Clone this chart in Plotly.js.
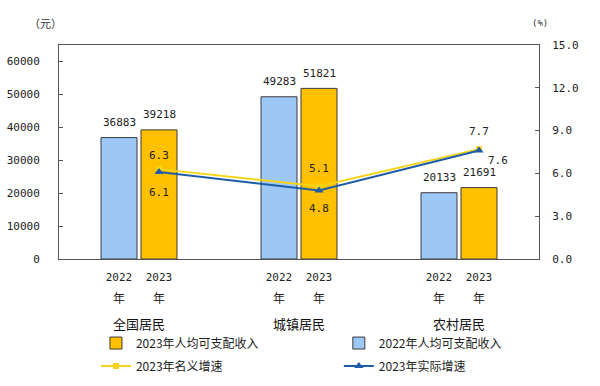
<!DOCTYPE html>
<html><head><meta charset="utf-8">
<script src="https://cdn.plot.ly/plotly-3.0.1.min.js"></script>
<style>html,body{margin:0;padding:0;background:#fff;}#chart{width:600px;height:386px;}</style>
</head><body><div id="chart"></div>
<script>
// ---- data ----
const groups = ['全国居民', '城镇居民', '农村居民'];
const years = ['2022', '2023'];
const income2022 = [36883, 49283, 20133];
const income2023 = [39218, 51821, 21691];
const nominalGrowth = [6.3, 5.1, 7.7];
const realGrowth = [6.1, 4.8, 7.6];
const legendNames = ['2022年人均可支配收入', '2023年人均可支配收入', '2023年名义增速', '2023年实际增速'];

// ---- style ----
const mono = 'DejaVu Sans Mono, monospace';
const cjk = 'Noto Sans CJK SC, sans-serif';
const bargap = 0.5;
const half = (1 - bargap) / 4; // centre offset of each bar in a group
const idx = groups.map((g, i) => i);
const nomShift = [14, 18, 18], realShift = [-21, -18, -10], realXShift = [0, 0, 19];

const traces = [
  {type: 'bar', name: legendNames[0], x: idx, y: income2022, legend: 'legend2', legendgroup: 'a', legendrank: 1,
   marker: {color: '#9DC8F5', line: {color: '#3a3a3a', width: 1}}, hoverinfo: 'none'},
  {type: 'bar', name: legendNames[1], x: idx, y: income2023, legend: 'legend', legendgroup: 'b', legendrank: 1,
   marker: {color: '#FFC000', line: {color: '#3a3a3a', width: 1}}, hoverinfo: 'none'},
  {type: 'scatter', mode: 'lines+markers', name: legendNames[2], yaxis: 'y2', legend: 'legend', legendgroup: 'c', legendrank: 2,
   x: idx.map(i => i + half), y: nominalGrowth,
   line: {color: '#F7D417', width: 2}, marker: {symbol: 'square', size: 6, color: '#F7D417'}},
  {type: 'scatter', mode: 'lines+markers', name: legendNames[3], yaxis: 'y2', legend: 'legend2', legendgroup: 'd', legendrank: 2,
   x: idx.map(i => i + half), y: realGrowth,
   line: {color: '#1F5CA8', width: 2}, marker: {symbol: 'triangle-up', size: 8, color: '#1F5CA8'}}
];

const annotations = [];
idx.forEach(i => {
  [income2022, income2023].forEach((arr, k) => {
    const x = i + (k === 0 ? -half : half);
    annotations.push({x: x, y: arr[i], xref: 'x', yref: 'y', text: String(arr[i]), showarrow: false,
      yanchor: 'middle', yshift: 15, font: {family: mono, size: 11, color: '#222'}});
    annotations.push({x: x, y: -0.182, xref: 'x', yref: 'paper', text: '年', showarrow: false,
      yanchor: 'middle', font: {family: cjk, size: 12, color: '#222'}});
  });
  annotations.push({x: i, y: -0.300, xref: 'x', yref: 'paper', text: groups[i], showarrow: false,
    yanchor: 'middle', font: {family: cjk, size: 13, color: '#111'}});
  annotations.push({x: i + half, y: nominalGrowth[i], xref: 'x', yref: 'y2', text: nominalGrowth[i].toFixed(1),
    showarrow: false, yanchor: 'middle', yshift: nomShift[i], font: {family: mono, size: 11, color: '#222'}});
  annotations.push({x: i + half, y: realGrowth[i], xref: 'x', yref: 'y2', text: realGrowth[i].toFixed(1),
    showarrow: false, yanchor: 'middle', yshift: realShift[i], xshift: realXShift[i], font: {family: mono, size: 11, color: '#222'}});
});
annotations.push({x: -0.067, y: 1.103, xref: 'paper', yref: 'paper', text: '（元）', showarrow: false,
  yanchor: 'middle', font: {family: cjk, size: 11, color: '#333'}});
annotations.push({x: 1.023, y: 1.103, xref: 'paper', yref: 'paper', text: '(%)', showarrow: false,
  yanchor: 'middle', font: {family: mono, size: 9, color: '#333'}});

const tickvals = [], ticktext = [];
idx.forEach(i => { years.forEach((yr, k) => { tickvals.push(i + (k === 0 ? -half : half)); ticktext.push(yr); }); });

const legendBase = {orientation: 'v', y: -0.325, xanchor: 'left', yanchor: 'top', traceorder: 'grouped',
  tracegroupgap: 4, font: {family: cjk, size: 12, color: '#222'}, bgcolor: 'rgba(0,0,0,0)'};

const layout = {
  width: 600, height: 386,
  margin: {l: 59, r: 61, t: 45, b: 127, autoexpand: false},
  paper_bgcolor: '#fff', plot_bgcolor: '#fff',
  barmode: 'group', bargap: bargap, bargroupgap: 0.1,
  showlegend: true,
  legend: Object.assign({x: 0.077}, legendBase),
  legend2: Object.assign({x: 0.583}, legendBase),
  xaxis: {range: [-0.5, 2.5], tickvals: tickvals, ticktext: ticktext, ticks: '', showgrid: false, zeroline: false,
    showline: true, mirror: true, linecolor: '#555', linewidth: 1, ticklabelstandoff: 8, automargin: false,
    tickfont: {family: mono, size: 11, color: '#222'}},
  yaxis: {range: [0, 65000], dtick: 10000, tickformat: 'd', ticks: 'inside', ticklen: 4, tickcolor: '#555', showgrid: false, zeroline: false,
    showline: true, mirror: true, linecolor: '#555', linewidth: 1, ticklabelstandoff: 16, automargin: false,
    tickfont: {family: mono, size: 11, color: '#222'}},
  yaxis2: {range: [0, 15], dtick: 3, tickformat: '.1f', overlaying: 'y', side: 'right', ticks: 'inside', ticklen: 4,
    tickcolor: '#555', showgrid: false, zeroline: false, showline: true, linecolor: '#555', linewidth: 1, automargin: false,
    ticklabelstandoff: 10, tickfont: {family: mono, size: 11, color: '#222'}},
  annotations: annotations
};

Plotly.newPlot('chart', traces, layout, {staticPlot: true, displayModeBar: false});
</script></body></html>
